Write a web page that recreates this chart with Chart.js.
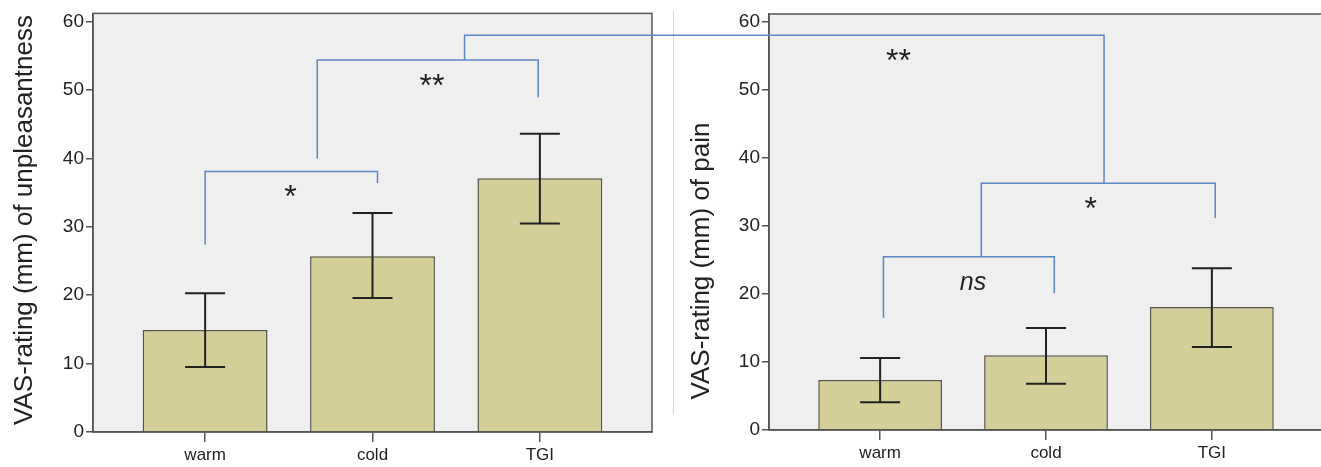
<!DOCTYPE html>
<html lang="en">
<head>
<meta charset="UTF-8">
<title>VAS ratings: unpleasantness and pain</title>
<style>
    body {
        margin: 0;
        background: #fff;
        overflow: hidden;
    }

    #wrap {
        position: relative;
        width: 1321px;
        height: 467px;
    }

    #wrap canvas {
        position: absolute;
        top: 0;
    }
</style>
</head>
<body>

<div id="wrap">
    <canvas id="unpleasant" width="660" height="467" style="left:0"></canvas>
    <canvas id="pain" width="663" height="467" style="left:660px"></canvas>
    <canvas id="overlay" width="1321" height="467" style="left:0;pointer-events:none"></canvas>
</div>

<script src="https://cdn.jsdelivr.net/npm/chart.js"></script>
<script>
    // values (mm on the VAS)
    const categories = ['warm', 'cold', 'TGI'];
    const yTicks = [0, 10, 20, 30, 40, 50, 60];

    const unpleasantMeans = [14.9, 25.7, 37.1];
    const unpleasantLow = [9.5, 19.6, 30.5];
    const unpleasantHigh = [20.3, 32.0, 43.6];

    const painMeans = [7.35, 11.0, 18.1];
    const painLow = [4.1, 6.8, 12.2];
    const painHigh = [10.6, 15.0, 23.8];

    // brackets: [x from, x to, left foot, right foot, top] in axis units
    const unpleasantBrackets = [[0, 1.03, 27.4, 36.4, 38.1], [0.67, 1.99, 40.0, 48.9, 54.4]];
    const painBrackets = [[0.02, 1.05, 16.5, 20.1, 25.5], [0.61, 2.02, 25.5, 31.2, 36.3]];
    // link between panels: from left (x, y) up to top, across to right (x, y)
    const crossLink = { fromX: 1.55, fromY: 54.4, topY: 58.0, toX: 1.35, toY: 36.3 };

    // significance labels: [text, x, y]
    const unpleasantMarks = [['*', 0.51, 35.2], ['**', 1.355, 51.4]];
    const painMarks = [['**', 0.11, 55.1], ['*', 1.27, 33.4], ['ns', 0.56, 21.6]];

    const FONT = 'Arial, "Liberation Sans", sans-serif';
    const AXIS = '#555555';
    const BRACKET = '#5b87c6';

    // background, frame, error bars and the rotated axis title
    const panelPlugin = {
        id: 'panel',
        beforeDraw(chart) {
            const { ctx, chartArea: a } = chart;
            ctx.save();
            ctx.fillStyle = '#efefef';
            ctx.fillRect(a.left, a.top, a.right - a.left, a.bottom - a.top);
            ctx.restore();
        },
        afterDatasetsDraw(chart, args, opts) {
            const { ctx, chartArea: a, scales: { x, y } } = chart;
            ctx.save();
            ctx.strokeStyle = AXIS;
            ctx.lineWidth = 1.5;
            ctx.strokeRect(a.left, a.top, a.right - a.left, a.bottom - a.top);

            ctx.strokeStyle = '#222';
            ctx.lineWidth = 2;
            opts.low.forEach((lo, i) => {
                const px = x.getPixelForValue(i);
                const y1 = y.getPixelForValue(lo);
                const y2 = y.getPixelForValue(opts.high[i]);
                ctx.beginPath();
                ctx.moveTo(px, y1); ctx.lineTo(px, y2);
                ctx.moveTo(px - 20, y1); ctx.lineTo(px + 20, y1);
                ctx.moveTo(px - 20, y2); ctx.lineTo(px + 20, y2);
                ctx.stroke();
            });

            ctx.fillStyle = '#222';
            ctx.font = '26px ' + FONT;
            ctx.textAlign = 'center';
            ctx.textBaseline = 'middle';
            ctx.translate(opts.titleX, opts.titleY);
            ctx.rotate(-Math.PI / 2);
            ctx.fillText(opts.title, 0, 0);
            ctx.restore();
        }
    };

    function makeChart(id, means, low, high, title, layout) {
        return new Chart(document.getElementById(id), {
            type: 'bar',
            data: {
                datasets: [{
                    data: means.map((v, i) => ({ x: i, y: v })),
                    backgroundColor: '#d4cf98',
                    borderColor: '#545444',
                    borderWidth: 1.5,
                    categoryPercentage: 0.746,
                    barPercentage: 1
                }]
            },
            options: {
                responsive: false,
                animation: false,
                layout: { padding: { top: layout.top, right: layout.right } },
                plugins: {
                    legend: { display: false },
                    tooltip: { enabled: false },
                    panel: { low: low, high: high, title: title, titleX: layout.titleX, titleY: layout.titleY }
                },
                scales: {
                    x: {
                        type: 'linear',
                        min: -0.67,
                        max: 2.67,
                        offset: false,
                        afterBuildTicks: s => { s.ticks = categories.map((c, i) => ({ value: i })); },
                        afterFit: s => { s.height = layout.xHeight; },
                        grid: { offset: false, drawOnChartArea: false, tickLength: 10, color: AXIS, lineWidth: 1.5 },
                        border: { color: AXIS, width: 1.5 },
                        ticks: {
                            callback: v => categories[v],
                            autoSkip: false,
                            maxRotation: 0,
                            padding: 3,
                            color: '#222',
                            font: { family: FONT, size: 17 }
                        }
                    },
                    y: {
                        min: 0,
                        max: 61.2,
                        afterBuildTicks: s => { s.ticks = yTicks.map(v => ({ value: v })); },
                        afterFit: s => { s.width = layout.yWidth; },
                        grid: { drawOnChartArea: false, tickLength: 7, color: AXIS, lineWidth: 1.5 },
                        border: { color: AXIS, width: 1.5 },
                        ticks: { padding: 2, color: '#222', font: { family: FONT, size: 19 } }
                    }
                }
            },
            plugins: [panelPlugin]
        });
    }

    const left = makeChart('unpleasant', unpleasantMeans, unpleasantLow, unpleasantHigh,
        'VAS-rating (mm) of unpleasantness',
        { top: 13, right: 8, yWidth: 93, xHeight: 35, titleX: 25, titleY: 220 });
    const right = makeChart('pain', painMeans, painLow, painHigh,
        'VAS-rating (mm) of pain',
        { top: 14, right: 0, yWidth: 109, xHeight: 37, titleX: 42, titleY: 261 });

    // brackets and labels go on one overlay so the link can cross both panels
    const ov = document.getElementById('overlay').getContext('2d');
    const px = (chart, v) => chart.canvas.offsetLeft + chart.scales.x.getPixelForValue(v);
    const py = (chart, v) => chart.scales.y.getPixelForValue(v);

    // faint separator between the two panels
    ov.strokeStyle = '#d6d6d6';
    ov.lineWidth = 1;
    ov.beginPath();
    ov.moveTo(right.canvas.offsetLeft + 13.5, 10);
    ov.lineTo(right.canvas.offsetLeft + 13.5, 415);
    ov.stroke();

    function drawBrackets(chart, brackets) {
        brackets.forEach(([x1, x2, foot1, foot2, top]) => {
            ov.beginPath();
            ov.moveTo(px(chart, x1), py(chart, foot1));
            ov.lineTo(px(chart, x1), py(chart, top));
            ov.lineTo(px(chart, x2), py(chart, top));
            ov.lineTo(px(chart, x2), py(chart, foot2));
            ov.stroke();
        });
    }

    function drawMarks(chart, marks) {
        marks.forEach(([text, x, y]) => {
            ov.font = text === 'ns' ? 'italic 25px ' + FONT : '32px ' + FONT;
            const m = ov.measureText(text);
            const cy = py(chart, y) + (m.actualBoundingBoxAscent - m.actualBoundingBoxDescent) / 2;
            ov.fillText(text, px(chart, x), cy);
        });
    }

    ov.strokeStyle = BRACKET;
    ov.lineWidth = 1.5;
    drawBrackets(left, unpleasantBrackets);
    drawBrackets(right, painBrackets);

    ov.beginPath();
    ov.moveTo(px(left, crossLink.fromX), py(left, crossLink.fromY));
    ov.lineTo(px(left, crossLink.fromX), py(left, crossLink.topY));
    ov.lineTo(px(right, crossLink.toX), py(left, crossLink.topY));
    ov.lineTo(px(right, crossLink.toX), py(right, crossLink.toY));
    ov.stroke();

    ov.fillStyle = '#222';
    ov.textAlign = 'center';
    ov.textBaseline = 'alphabetic';
    drawMarks(left, unpleasantMarks);
    drawMarks(right, painMarks);
</script>

</body>
</html>
